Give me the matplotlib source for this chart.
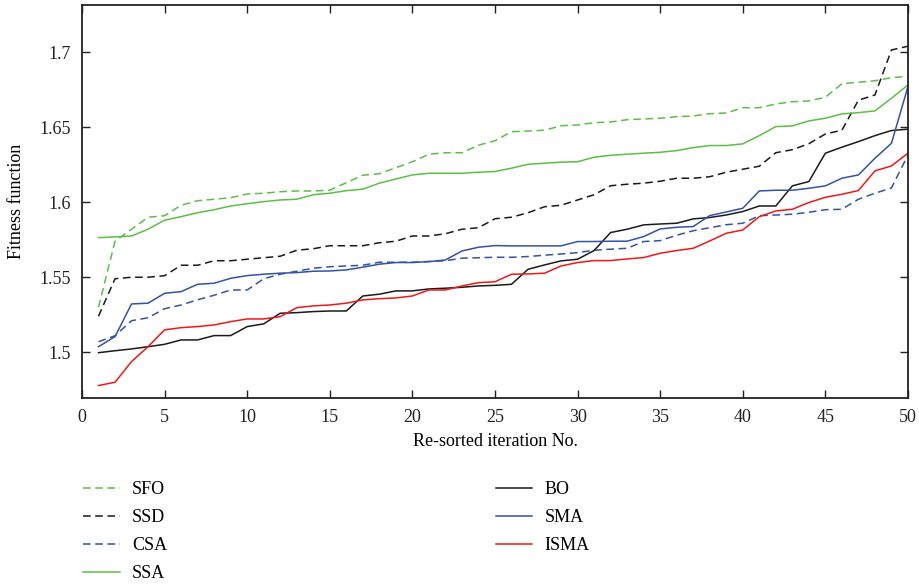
import numpy as np
import matplotlib
matplotlib.use("Agg")
import matplotlib.pyplot as plt

plt.rcParams['font.family'] = ['Liberation Serif', 'DejaVu Serif']

# ===============================
# Data
# ===============================
iterations = np.arange(1, 51)

sfo = [1.530, 1.574, 1.582, 1.590, 1.591, 1.598, 1.601, 1.602, 1.603, 1.6055,
       1.606, 1.607, 1.6075, 1.6075, 1.608, 1.613, 1.618, 1.619, 1.623, 1.627,
       1.632, 1.633, 1.633, 1.638, 1.641, 1.647, 1.6475, 1.648, 1.651, 1.6515,
       1.653, 1.6535, 1.655, 1.6555, 1.656, 1.657, 1.6575, 1.659, 1.6595, 1.663,
       1.663, 1.6655, 1.667, 1.6675, 1.670, 1.679, 1.680, 1.681, 1.683, 1.684]

ssd = [1.524, 1.549, 1.550, 1.550, 1.551, 1.558, 1.558, 1.561, 1.561, 1.562,
       1.563, 1.564, 1.568, 1.569, 1.571, 1.571, 1.571, 1.573, 1.574, 1.5775,
       1.5775, 1.579, 1.582, 1.583, 1.589, 1.590, 1.593, 1.597, 1.598, 1.6015,
       1.605, 1.611, 1.612, 1.6127, 1.614, 1.616, 1.616, 1.617, 1.620, 1.622,
       1.624, 1.633, 1.635, 1.639, 1.6455, 1.648, 1.668, 1.6715, 1.7015, 1.704]

csa = [1.507, 1.511, 1.521, 1.523, 1.529, 1.5315, 1.535, 1.538, 1.5415, 1.5415,
       1.549, 1.552, 1.554, 1.556, 1.557, 1.5575, 1.558, 1.560, 1.560, 1.560,
       1.5605, 1.561, 1.5627, 1.563, 1.5633, 1.5633, 1.5638, 1.5647, 1.5655, 1.5664,
       1.568, 1.5687, 1.5693, 1.5738, 1.5744, 1.578, 1.581, 1.583, 1.585, 1.586,
       1.591, 1.5915, 1.592, 1.5933, 1.595, 1.5953, 1.602, 1.606, 1.6095, 1.6315]

ssa = [1.5764, 1.5769, 1.5775, 1.582, 1.588, 1.5904, 1.593, 1.595, 1.5975, 1.599,
       1.6004, 1.6015, 1.602, 1.605, 1.606, 1.6077, 1.6087, 1.6127, 1.6155, 1.6182,
       1.6193, 1.6193, 1.6193, 1.620, 1.6205, 1.6227, 1.6253, 1.626, 1.6267, 1.627,
       1.630, 1.6313, 1.632, 1.6327, 1.6333, 1.6344, 1.6364, 1.6378, 1.6378, 1.6389,
       1.6444, 1.6504, 1.6509, 1.6542, 1.656, 1.6589, 1.6597, 1.6609, 1.6693, 1.6782]

bo = [1.4997, 1.501, 1.5022, 1.5037, 1.5053, 1.5082, 1.5082, 1.5111, 1.5111, 1.5171,
      1.5189, 1.526, 1.5264, 1.5271, 1.5275, 1.5275, 1.5375, 1.5387, 1.5409, 1.5409,
      1.5422, 1.5427, 1.5433, 1.5442, 1.5446, 1.5453, 1.5553, 1.5582, 1.5609, 1.562,
      1.5678, 1.5798, 1.582, 1.5849, 1.5855, 1.586, 1.5889, 1.5898, 1.5915, 1.5938,
      1.5975, 1.5975, 1.6109, 1.6138, 1.6327, 1.6367, 1.6404, 1.6444, 1.6478, 1.6487]

sma = [1.5037, 1.5104, 1.5322, 1.5327, 1.5393, 1.5404, 1.5453, 1.546, 1.5493, 1.5511,
       1.552, 1.5527, 1.5531, 1.554, 1.5542, 1.5549, 1.5567, 1.5587, 1.5598, 1.5598,
       1.5604, 1.5615, 1.5675, 1.570, 1.5711, 1.5709, 1.5709, 1.5709, 1.5709, 1.5738,
       1.5738, 1.574, 1.574, 1.5771, 1.5822, 1.5833, 1.5838, 1.5911, 1.5935, 1.596,
       1.6075, 1.608, 1.608, 1.6093, 1.6109, 1.616, 1.6182, 1.6293, 1.6393, 1.6771]

isma = [1.4778, 1.480, 1.4938, 1.5037, 1.5149, 1.5164, 1.5171, 1.5182, 1.5204, 1.5222,
        1.5222, 1.5237, 1.5297, 1.5309, 1.5315, 1.5327, 1.5349, 1.5357, 1.5362, 1.5375,
        1.5415, 1.5415, 1.5442, 1.5464, 1.547, 1.552, 1.5522, 1.5527, 1.5575, 1.5598,
        1.5611, 1.5611, 1.5622, 1.5631, 1.566, 1.5678, 1.5693, 1.5742, 1.5793, 1.5815,
        1.5904, 1.5942, 1.5953, 1.5998, 1.6033, 1.6053, 1.6078, 1.6209, 1.6242, 1.6327]

x_ticks = [0, 5, 10, 15, 20, 25, 30, 35, 40, 45, 50]
y_ticks = [1.5, 1.55, 1.6, 1.65, 1.7]
y_tick_labels = ['1.5', '1.55', '1.6', '1.65', '1.7']

# ===============================
# Plot
# ===============================
green = '#5cbf45'
black = '#1a1a1a'
blue = '#3352a8'
red = '#f01818'

fig = plt.figure(figsize=(9.19, 5.84), dpi=100)
ax = fig.add_axes([0.0892, 0.3185, 0.8988, 0.673])

ax.plot(iterations, sfo, color=green, ls=(0, (5, 3)), lw=1.1, label='SFO')
ax.plot(iterations, ssd, color=black, ls=(0, (5, 3)), lw=1.1, label='SSD')
ax.plot(iterations, csa, color=blue, ls=(0, (5, 3)), lw=1.1, label='CSA')
ax.plot(iterations, ssa, color=green, lw=1.1, label='SSA')
ax.plot(iterations, bo, color=black, lw=1.1, label='BO')
ax.plot(iterations, sma, color=blue, lw=1.1, label='SMA')
ax.plot(iterations, isma, color=red, lw=1.1, label='ISMA')

ax.set_xlim(0, 50)
ax.set_ylim(1.4695, 1.7315)
ax.set_xticks(x_ticks)
ax.set_yticks(y_ticks)
ax.set_yticklabels(y_tick_labels)
ax.tick_params(direction='in', top=True, right=True, length=6, width=1,
               labelsize=13, pad=8, colors='#222222')
for s in ax.spines.values():
    s.set_linewidth(1.3)
    s.set_color('#222222')

ax.set_xlabel('Re-sorted iteration No.', fontsize=13, labelpad=5)
ax.set_ylabel('Fitness function', fontsize=13, labelpad=10)

fig.legend(loc='upper left', bbox_to_anchor=(0.083, 0.188), ncol=2,
           frameon=False, fontsize=13, handlelength=2.0, handletextpad=0.7,
           labelspacing=0.6, columnspacing=18.2, borderaxespad=0)

plt.savefig('out.png', dpi=100)
